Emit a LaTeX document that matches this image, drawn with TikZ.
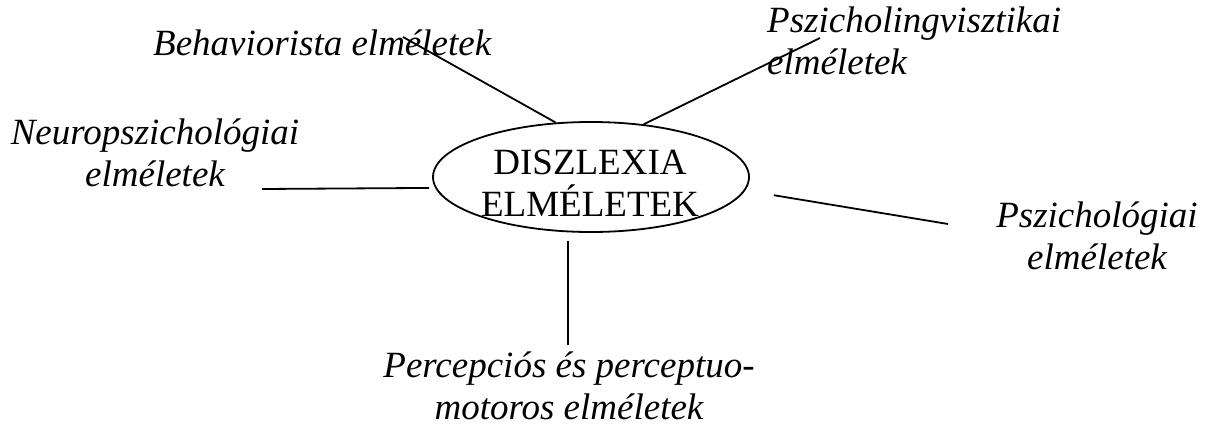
\documentclass[tikz,border=0pt]{standalone}
\usepackage{fontspec}
\setmainfont{Liberation Serif}
\usetikzlibrary{shapes.geometric,positioning}
\tikzset{
  core/.style={ellipse, draw=black, line width=1.8pt, minimum width=316pt, minimum height=110pt, inner sep=0pt},
  coretext/.style={align=center, inner sep=0pt, font=\fontsize{37}{42}\selectfont},
  theory/.style={align=center, inner sep=0pt, font=\fontsize{37}{42}\selectfont\itshape},
  spoke/.style={line width=1.8pt, draw=black}
}
\begin{document}
\begin{tikzpicture}[x=1pt,y=-1pt]
  \useasboundingbox (0,0) rectangle (1214,434);
  \node[core] (dis) at (591,177) {};
  \node[coretext, anchor=south] (distext) at (590,217) {DISZLEXIA\\ELMÉLETEK};
  \node[theory, anchor=base west] (beh) at (153,55) {Behaviorista elméletek};
  \node[theory, align=left, anchor=south west] (psyling) at (767,75) {Pszicholingvisztikai\\elméletek};
  \node[theory, anchor=south] (neuro) at (155,187) {Neuropszichológiai\\elméletek};
  \node[theory, anchor=south] (psy) at (1097,270) {Pszichológiai\\elméletek};
  \node[theory, anchor=south] (perc) at (569,420) {Percepciós és perceptuo-\\motoros elméletek};
  \coordinate (behEnd) at (403,37);
  \coordinate (psylingEnd) at (820,38);
  \coordinate (neuroEnd) at (262,189);
  \coordinate (psyEnd) at (948,224);
  \coordinate (percEnd) at (568,345);
  \draw[spoke] (behEnd) -- (dis.123.7);
  \draw[spoke] (psylingEnd) -- (dis.45.5);
  \draw[spoke, shorten >=6pt] (neuroEnd) -- (dis.184);
  \draw[spoke, shorten <=29pt] (dis.-5.3) -- (psyEnd);
  \draw[spoke] ([yshift=-8pt]dis.south -| percEnd) -- (percEnd);
\end{tikzpicture}
\end{document}
